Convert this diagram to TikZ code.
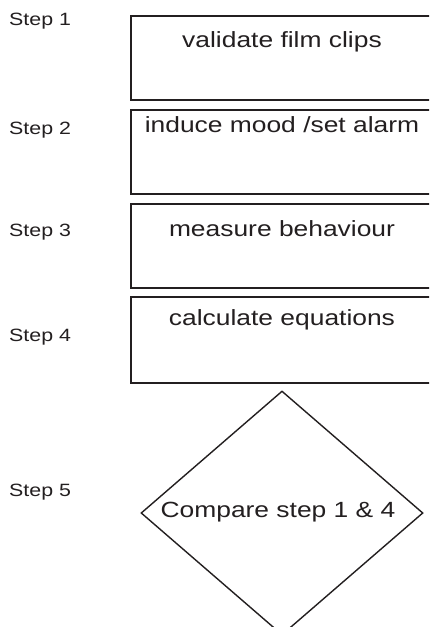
\documentclass[tikz,border=0pt]{standalone}
\usepackage{fontspec}
\setmainfont{Liberation Sans}[FakeStretch=1.2]
\usetikzlibrary{shapes.geometric}
\definecolor{ink}{HTML}{231F20}
\tikzset{
  stepbox/.style={draw=ink, line width=1.9pt, minimum width=302pt, inner sep=0pt},
  decisionbox/.style={draw=ink, line width=1.4pt, shape=diamond, inner sep=0pt, minimum width=282pt, minimum height=244pt},
  boxtext/.style={anchor=base, inner sep=0pt, text=ink, font=\fontsize{22pt}{26pt}\selectfont},
  steplabel/.style={anchor=base west, inner sep=0pt, text=ink, font=\fontsize{17.8pt}{21pt}\selectfont}
}
\begin{document}
\begin{tikzpicture}[x=1pt, y=-1pt]
\useasboundingbox (0,0) rectangle (429,627);
\fill[white] (0,0) rectangle (429,627);
\clip (0,0) rectangle (429,627);
% boxes
\node[stepbox, minimum height=84pt] (b1) at (282,58) {};
\node[stepbox, minimum height=84pt] (b2) at (282,152) {};
\node[stepbox, minimum height=84pt] (b3) at (282,246) {};
\node[stepbox, minimum height=86pt] (b4) at (282,340) {};
\node[decisionbox] (d5) at (282,513) {};
% box texts
\node[boxtext] (t1) at (282,47) {validate film clips};
\node[boxtext] (t2) at (282,132) {induce mood /set alarm};
\node[boxtext] (t3) at (282,236.7) {measure behaviour};
\node[boxtext] (t4) at (282,325) {calculate equations};
\node[boxtext] (t5) at (278,517) {Compare step 1 \& 4};
% step labels
\node[steplabel] (s1) at (9,25.5) {Step 1};
\node[steplabel] (s2) at (9,134) {Step 2};
\node[steplabel] (s3) at (9,236.7) {Step 3};
\node[steplabel] (s4) at (9,341) {Step 4};
\node[steplabel] (s5) at (9,496) {Step 5};
\end{tikzpicture}
\end{document}
